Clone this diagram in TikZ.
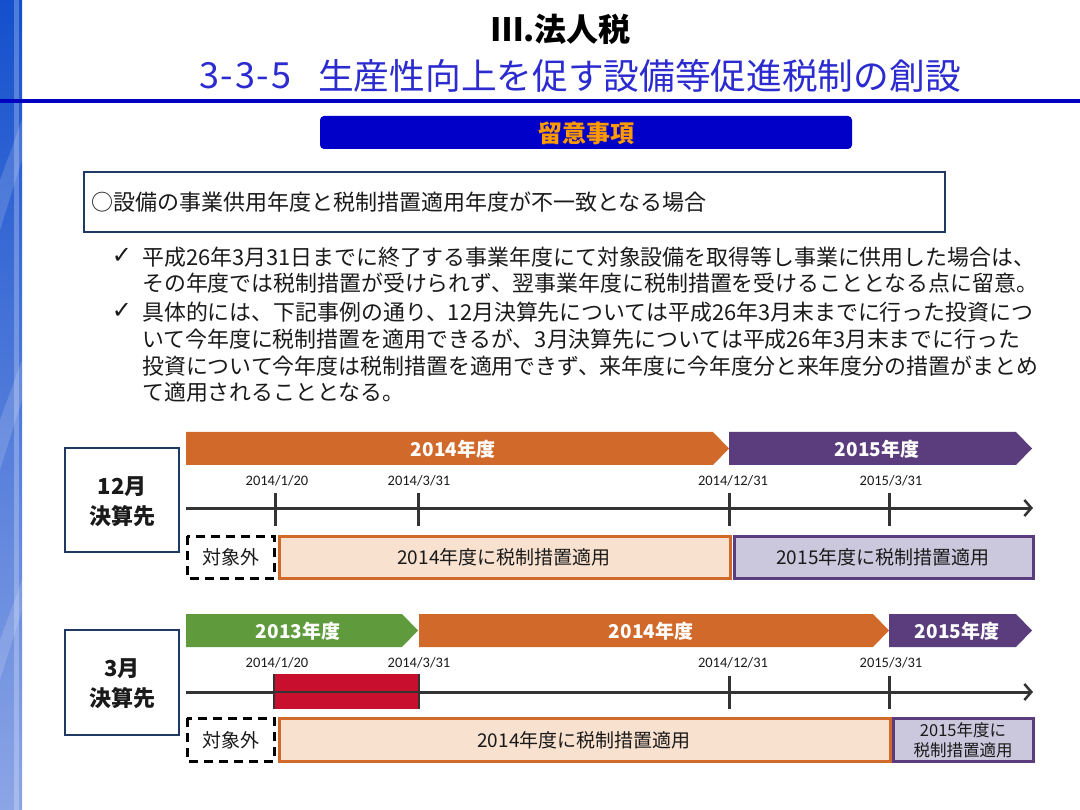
\documentclass[tikz,border=0pt]{standalone}
\usepackage{fontspec}
\setmainfont{Noto Sans CJK JP}
\newfontfamily\jpf{Noto Sans CJK JP}
\newfontfamily\calf{Carlito}
\newfontfamily\symf{DejaVu Sans}
\usetikzlibrary{arrows.meta}
\definecolor{rulebl}{HTML}{0000C0}
\definecolor{titlebl}{HTML}{2B2BD0}
\definecolor{hdrbl}{HTML}{0000C8}
\definecolor{hdror}{HTML}{FF9A00}
\definecolor{boxnavy}{HTML}{1F3864}
\definecolor{orng}{HTML}{D0692A}
\definecolor{orngl}{HTML}{F8E1CF}
\definecolor{purp}{HTML}{5B3C7D}
\definecolor{purpl}{HTML}{CBC7DD}
\definecolor{grn}{HTML}{5F9B3C}
\definecolor{redb}{HTML}{C8102E}
\definecolor{axisc}{HTML}{333333}
\definecolor{txt}{HTML}{1A1A1A}
\newcommand{\fs}[1]{\fontsize{#1}{#1}\selectfont}
\newcommand{\fsl}[2]{\fontsize{#1}{#2}\selectfont}
\newcommand{\hw}[1]{\makebox[0.5em]{#1}}
\tikzset{
  bodytxt/.style={anchor=west, inner sep=0pt, text=txt, font=\fs{21.9}},
  yeartxt/.style={text=white, font=\fs{19}\bfseries, inner sep=0pt},
  datetxt/.style={font=\calf\fs{14.5}, text=txt, inner sep=0pt},
  axisline/.style={draw=axisc, line width=3pt, -{Straight Barb[length=7pt,width=16pt,line width=2.5pt]}},
  tickline/.style={draw=axisc, line width=3pt},
  outbox/.style={draw=black, line width=3pt, dash pattern=on 9pt off 6pt, fill=white},
  applyor/.style={draw=orng, line width=3pt, fill=orngl},
  applypu/.style={draw=purp, line width=3pt, fill=purpl},
  boxtxt/.style={font=\fs{19}, text=txt, inner sep=0pt, align=center},
  labelbox/.style={draw=boxnavy, line width=2pt, fill=white},
  labeltxt/.style={font={\fsl{22}{30}\bfseries}, text=txt, align=center, inner sep=0pt},
  checktxt/.style={font=\symf\fs{24}, text=txt, inner sep=0pt}
}
\begin{document}
\begin{tikzpicture}[x=1pt,y=-1pt]
\useasboundingbox (0,0) rectangle (1080,810);
\fill[white] (0,0) rectangle (1080,810);
% left strip
\shade[top color={rgb,255:red,20;green,80;blue,205}, bottom color={rgb,255:red,140;green,165;blue,230}] (0,0) rectangle (22,810);
\fill[white, opacity=0.25] (14,0) rectangle (19,810);
\fill[white, opacity=0.15] (0,180) -- (22,120) -- (22,160) -- (0,230) -- cycle;
\fill[white, opacity=0.15] (0,420) -- (22,360) -- (22,400) -- (0,470) -- cycle;
\fill[white, opacity=0.15] (0,640) -- (22,580) -- (22,610) -- (0,680) -- cycle;
% title
\node[font=\fs{32}\bfseries, text=black, inner sep=0pt] (t1) at (561,29) {Ⅲ.法人税};
\node[font=\fs{36}, text=titlebl, inner sep=0pt, anchor=west] (t2) at (200,76) {\hw{3}\hw{-}\hw{3}\hw{-}\hw{5}};
\node[font=\fs{35.7}, text=titlebl, inner sep=0pt, anchor=west] (t3) at (318,76) {生産性向上を促す設備等促進税制の創設};
\draw[rulebl, line width=4.5pt] (0,101) -- (1080,101);
% header
\fill[hdrbl, rounded corners=4pt] (320,116) rectangle (852,149);
\node[font=\fs{24}\bfseries, text=hdror, inner sep=0pt] (hdr) at (586,133) {留意事項};
% case box
\draw[boxnavy, line width=2pt] (84,172) rectangle (945,232);
\node[bodytxt, font=\fs{22}] (case) at (91,202) {○設備の事業供用年度と税制措置適用年度が不一致となる場合};
% bullets
\node[checktxt] (ck1) at (122,256) {✓};
\node[bodytxt] (l1) at (142,257) {平成26年3月31日までに終了する事業年度にて対象設備を取得等し事業に供用した場合は、};
\node[bodytxt] (l2) at (142,283) {その年度では税制措置が受けられず、翌事業年度に税制措置を受けることとなる点に留意。};
\node[checktxt] (ck2) at (122,311) {✓};
\node[bodytxt] (l3) at (142,312) {具体的には、下記事例の通り、12月決算先については平成26年3月末までに行った投資につ};
\node[bodytxt] (l4) at (142,339) {いて今年度に税制措置を適用できるが、3月決算先については平成26年3月末までに行った};
\node[bodytxt] (l5) at (142,366) {投資について今年度は税制措置を適用できず、来年度に今年度分と来年度分の措置がまとめ};
\node[bodytxt] (l6) at (142,392) {て適用されることとなる。};

% ===== timeline 1 : 12月
\draw[labelbox] (65,448) rectangle (179,552);
\node[labeltxt] (lab1) at (122,502) {12月\\決算先};
\fill[orng] (186,432) -- (713,432) -- (729,448.5) -- (713,465) -- (186,465) -- cycle;
\node[yeartxt] (y1a) at (453,449) {2014年度};
\fill[purp] (729,432) -- (1016,432) -- (1032,448.5) -- (1016,465) -- (729,465) -- cycle;
\node[yeartxt] (y1b) at (877,449) {2015年度};
\node[datetxt] (d1a) at (277,481) {2014/1/20};
\node[datetxt] (d1b) at (419,481) {2014/3/31};
\node[datetxt] (d1c) at (733,481) {2014/12/31};
\node[datetxt] (d1d) at (891,481) {2015/3/31};
\coordinate (a1s) at (186,508);
\coordinate (a1e) at (1033,508);
\draw[axisline] (a1s) -- (a1e);
\foreach \x/\n in {275/a,418/b,729/c,889/d}{
  \coordinate (tk1\n t) at (\x,493);
  \coordinate (tk1\n b) at (\x,526);
  \draw[tickline] (tk1\n t) -- (tk1\n b);
}
\draw[outbox] (187,536) rectangle (274,578);
\node[boxtxt] (o1) at (230.5,557) {対象外};
\draw[applyor] (279,536) rectangle (730,578);
\node[boxtxt] (ap1) at (504,557) {2014年度に税制措置適用};
\draw[applypu] (734,536) rectangle (1033,578);
\node[boxtxt] (ap2) at (883,557) {2015年度に税制措置適用};

% ===== timeline 2 : 3月
\draw[labelbox] (65,630) rectangle (179,735);
\node[labeltxt] (lab2) at (122,684) {3月\\決算先};
\fill[grn] (186,614) -- (402,614) -- (418,630.5) -- (402,647) -- (186,647) -- cycle;
\node[yeartxt] (y2a) at (298,631) {2013年度};
\fill[orng] (419,614) -- (873,614) -- (889,630.5) -- (873,647) -- (419,647) -- cycle;
\node[yeartxt] (y2b) at (651,631) {2014年度};
\fill[purp] (889,614) -- (1016,614) -- (1032,630.5) -- (1016,647) -- (889,647) -- cycle;
\node[yeartxt] (y2c) at (957,631) {2015年度};
\node[datetxt] (d2a) at (277,663) {2014/1/20};
\node[datetxt] (d2b) at (419,663) {2014/3/31};
\node[datetxt] (d2c) at (733,663) {2014/12/31};
\node[datetxt] (d2d) at (891,663) {2015/3/31};
\coordinate (a2s) at (186,692);
\coordinate (a2e) at (1033,692);
\draw[axisline] (a2s) -- (a2e);
\foreach \x/\n in {275/a,418/b,729/c,889/d}{
  \coordinate (tk2\n t) at (\x,676);
  \coordinate (tk2\n b) at (\x,709);
  \draw[tickline] (tk2\n t) -- (tk2\n b);
}
\fill[redb] (274,674) rectangle (419,709);
\draw[axisc, line width=2pt] (274,674) -- (274,709);
\draw[axisc, line width=2pt] (419,674) -- (419,709);
\draw[axisc, line width=1.5pt] (274,692) -- (419,692);
\draw[outbox] (187,718) rectangle (274,761);
\node[boxtxt] (o2) at (230.5,740) {対象外};
\draw[applyor] (279,718) rectangle (890,761);
\node[boxtxt] (ap3) at (584,740) {2014年度に税制措置適用};
\draw[applypu] (893,718) rectangle (1033,761);
\node[boxtxt, font={\fsl{16.5}{20}}] (ap4) at (963,740) {2015年度に\\税制措置適用};
\end{tikzpicture}
\end{document}
